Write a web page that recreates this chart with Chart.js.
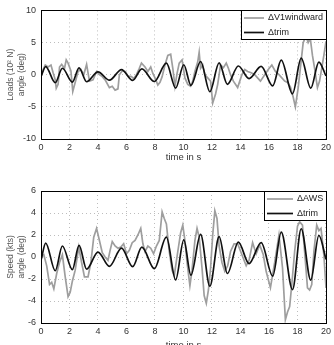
<!DOCTYPE html>
<html>
<head>
<meta charset="utf-8">
<script src="https://cdn.jsdelivr.net/npm/chart.js@4.4.1/dist/chart.umd.min.js"></script>
<style>
  html, body { margin: 0; padding: 0; background: #fff; overflow: hidden; }
  body { width: 334px; height: 345px; position: relative; }
  canvas { position: absolute; left: 0; }
  #top { top: 0; }
  #bottom { top: 172px; }
</style>
</head>
<body>
<canvas id="top" width="334" height="172"></canvas>
<canvas id="bottom" width="334" height="188"></canvas>
<script>
// trim signal (same in both panels)
const tTrim = [0, 0.33, 1.0, 1.5, 2.2, 2.67, 3.2, 4.0, 4.8, 5.65, 6.43, 7.08, 7.95, 8.8, 9.45, 10.02, 10.52, 11.2, 11.85, 12.5, 13.08, 13.85, 14.6, 15.45, 16.26, 16.86, 17.65, 18.26, 18.93, 19.5, 20];
const trimV = [-0.3, 1.27, -1.25, 1.0, -1.15, 1.06, -1.1, 0.45, -0.85, 0.8, -0.88, 0.9, -1.06, 1.8, -2.08, 1.55, -1.65, 2.05, -2.65, 1.85, -1.5, 1.35, -0.6, 1.3, -1.73, 2.27, -2.97, 2.57, -2.1, 1.97, -0.2];

// windward load (top panel)
const tV1 = [0, 0.15, 0.3, 0.5, 0.7, 0.85, 1.0, 1.07, 1.2, 1.3, 1.45, 1.65, 1.77, 1.9, 2.1, 2.23, 2.45, 2.6, 2.8, 3.0, 3.2, 3.4, 3.65, 3.9, 4.1, 4.3, 4.5, 4.8, 5.0, 5.2, 5.4, 5.5, 5.7, 5.9, 6.1, 6.35, 6.5, 6.7, 6.9, 7.05, 7.3, 7.5, 7.7, 7.85, 8.0, 8.2, 8.35, 8.5, 8.7, 8.9, 9.1, 9.25, 9.4, 9.55, 9.7, 9.9, 10.1, 10.3, 10.5, 10.65, 10.8, 11.0, 11.1, 11.2, 11.35, 11.5, 11.7, 11.9, 12.05, 12.25, 12.4, 12.6, 12.8, 13.0, 13.15, 13.3, 13.5, 13.8, 14.1, 14.3, 14.5, 14.75, 15.0, 15.2, 15.4, 15.7, 15.95, 16.2, 16.45, 16.7, 16.9, 17.1, 17.3, 17.5, 17.7, 17.85, 18.05, 18.25, 18.4, 18.6, 18.75, 18.9, 19.05, 19.2, 19.4, 19.55, 19.7, 19.85, 20];
const v1V = [-0.3, 0.8, 1.5, 1.2, 1.5, 0.3, -0.8, -2.1, -1.5, 1.2, 1.6, 1.0, 2.3, 1.8, 0.6, -2.6, -0.8, 0.5, 0.8, 0.0, 1.6, -1.0, -0.8, 0.5, 0.0, -0.3, -0.8, -2.0, -1.8, -2.4, -2.2, 0.0, 0.6, 0.5, -0.2, -0.3, -0.6, 0.0, 1.0, 1.8, 1.2, 0.5, 1.2, 0.2, -0.5, -1.6, -1.2, -0.3, 1.5, 3.0, 3.2, 1.0, -1.8, 0.2, 1.8, 2.3, -0.5, -1.5, -1.8, -1.0, 0.5, 2.0, 3.5, 1.0, 1.5, 0.0, -0.5, -1.0, -4.4, -3.0, -1.5, 1.5, 1.1, 1.8, 1.0, 0.0, -1.0, -2.0, 0.0, 0.8, 0.5, 0.3, 0.0, -0.5, -1.0, 0.0, 0.8, 1.5, 0.5, 0.0, -0.5, -1.0, -1.2, -1.9, -3.5, -5.0, -2.0, 2.0, 5.0, 6.0, 5.0, 5.6, 3.0, 1.0, -2.0, -1.0, 1.0, 3.0, 5.2];

// apparent wind speed (bottom panel)
const tAws = [0, 0.2, 0.4, 0.6, 0.75, 0.9, 1.1, 1.3, 1.5, 1.7, 1.9, 2.05, 2.2, 2.4, 2.65, 2.85, 3.05, 3.3, 3.5, 3.7, 3.9, 4.1, 4.3, 4.5, 4.7, 4.85, 5.0, 5.2, 5.4, 5.6, 5.8, 6.0, 6.2, 6.4, 6.6, 6.8, 7.0, 7.15, 7.3, 7.5, 7.7, 7.9, 8.1, 8.3, 8.5, 8.65, 8.8, 9.0, 9.2, 9.35, 9.6, 9.8, 9.95, 10.1, 10.25, 10.45, 10.6, 10.8, 10.95, 11.1, 11.3, 11.45, 11.6, 11.75, 11.9, 12.05, 12.2, 12.35, 12.5, 12.7, 12.9, 13.1, 13.3, 13.55, 13.8, 14.1, 14.4, 14.6, 14.85, 15.1, 15.35, 15.6, 15.8, 16.1, 16.4, 16.7, 16.95, 17.15, 17.3, 17.45, 17.6, 17.8, 18.0, 18.15, 18.35, 18.5, 18.7, 18.85, 19.0, 19.15, 19.35, 19.5, 19.65, 19.85, 20];
const awsV = [0, 0.2, -0.8, -2.5, -2.3, -2.9, -1.5, -0.5, 0.2, -1.8, -3.6, -3.2, -2.2, -1.2, 0.9, -0.5, -1.8, -1.8, -0.5, 1.8, 2.6, 1.5, 0.4, 0.0, -0.3, 0.6, 1.4, 1.0, 0.8, 0.9, 1.2, 0.3, 0.6, 1.3, 1.5, 2.0, 2.6, 1.2, 0.5, 1.0, 0.8, 0.3, 1.0, 1.5, 4.1, 3.5, 3.0, 0.5, -1.2, -1.7, 0.5, 2.2, 2.9, 1.5, -0.5, -2.6, -1.2, 1.5, 2.6, 1.8, -1.0, -3.5, -4.2, -3.0, -1.0, 2.0, 4.2, 3.5, 1.0, -0.5, -1.3, -0.8, 0.5, 1.2, 1.2, 0.2, -0.8, -0.3, 1.3, 0.3, 1.1, 0.2, -1.3, -2.8, -0.5, 2.0, -1.0, -5.7, -5.0, -4.5, -2.5, 0.5, 2.8, 3.2, 2.9, 0.5, -2.8, -3.0, -2.5, 0.5, 2.9, 2.4, 2.6, 0.2, -2.8];

const xTicks = [0, 20, 2];
const topTicks = [-10, 10, 5];
const botTicks = [-6, 6, 2];

function pts(ts, vs) {
  return ts.map((t, i) => ({ x: t, y: vs[i] }));
}

// MATLAB style box around the axes + boxed legend in the top right corner
const frameLegend = {
  id: "frameLegend",
  afterDraw(chart, args, opts) {
    const ctx = chart.ctx;
    const a = chart.chartArea;
    ctx.save();
    ctx.strokeStyle = "#000";
    ctx.lineWidth = 1;
    ctx.strokeRect(Math.round(a.left) + 0.5, Math.round(a.top) + 0.5, Math.round(a.right - a.left), Math.round(a.bottom - a.top));

    ctx.font = opts.font;
    const sets = chart.data.datasets;
    let textW = 0;
    sets.forEach((d) => { textW = Math.max(textW, ctx.measureText(d.label).width); });
    const w = Math.round(3 + opts.sample + 4 + textW + 3);
    const h = 29;
    const x0 = Math.round(a.right) - w;
    const y0 = Math.round(a.top);
    ctx.fillStyle = "#fff";
    ctx.fillRect(x0 + 0.5, y0 + 0.5, w, h);
    ctx.strokeRect(x0 + 0.5, y0 + 0.5, w, h);
    sets.forEach((d, i) => {
      const y = y0 + 8 + i * 14.5;
      ctx.strokeStyle = d.borderColor;
      ctx.lineWidth = d.borderWidth;
      ctx.beginPath();
      ctx.moveTo(x0 + 3, y);
      ctx.lineTo(x0 + 3 + opts.sample, y);
      ctx.stroke();
      ctx.fillStyle = "#222";
      ctx.textBaseline = "middle";
      ctx.fillText(d.label, x0 + 3 + opts.sample + 4, y);
    });
    ctx.restore();
  },
};

function makeChart(id, grayLabel, tGray, vGray, yt, ylabel, padTop, xHeight, sample) {
  return new Chart(document.getElementById(id).getContext("2d"), {
    type: "line",
    data: {
      datasets: [
        {
          label: grayLabel,
          data: pts(tGray, vGray),
          borderColor: "#9e9e9e",
          borderWidth: 1.7,
          pointRadius: 0,
          tension: 0,
          order: 1,
        },
        {
          label: "\u0394trim",
          data: pts(tTrim, trimV),
          borderColor: "#111",
          borderWidth: 1.7,
          pointRadius: 0,
          cubicInterpolationMode: "monotone",
          order: 0,
        },
      ],
    },
    options: {
      responsive: false,
      animation: false,
      layout: { padding: { top: padTop, right: 6, left: 0, bottom: 0 } },
      plugins: {
        legend: { display: false },
        tooltip: { enabled: false },
        frameLegend: { font: "9px 'Liberation Sans', Arial, sans-serif", sample: sample },
      },
      scales: {
        x: {
          type: "linear",
          min: xTicks[0],
          max: xTicks[1],
          ticks: { stepSize: xTicks[2], padding: 3, color: "#333", font: { family: "'Liberation Sans', Arial, sans-serif", size: 9 } },
          grid: { color: "#bdbdbd", drawTicks: false },
          border: { color: "#000", dash: [1, 3] },
          title: { display: true, text: "time in s", color: "#333", font: { family: "'Liberation Sans', Arial, sans-serif", size: 9.5 }, padding: { top: 0, bottom: 9 } },
          afterFit: (s) => { s.height = xHeight; },
        },
        y: {
          min: yt[0],
          max: yt[1],
          ticks: { stepSize: yt[2], padding: 5, color: "#333", font: { family: "'Liberation Sans', Arial, sans-serif", size: 9 } },
          grid: { color: "#bdbdbd", drawTicks: false },
          border: { color: "#000", dash: [1, 3] },
          title: { display: true, text: ylabel, color: "#555", font: { family: "'Liberation Sans', Arial, sans-serif", size: 8.5, lineHeight: 1.25 }, padding: { top: 5.7, bottom: 0 } },
          afterFit: (s) => { s.width = 41; },
        },
      },
    },
    plugins: [frameLegend],
  });
}

makeChart("top", "\u0394V1windward", tV1, v1V, topTicks, ["Loads (10\u00b2 N)", "angle (deg)"], 7, 33, 20);
makeChart("bottom", "\u0394AWS", tAws, awsV, botTicks, ["Speed (kts)", "angle (deg)"], 19, 37, 26);
</script>
</body>
</html>
